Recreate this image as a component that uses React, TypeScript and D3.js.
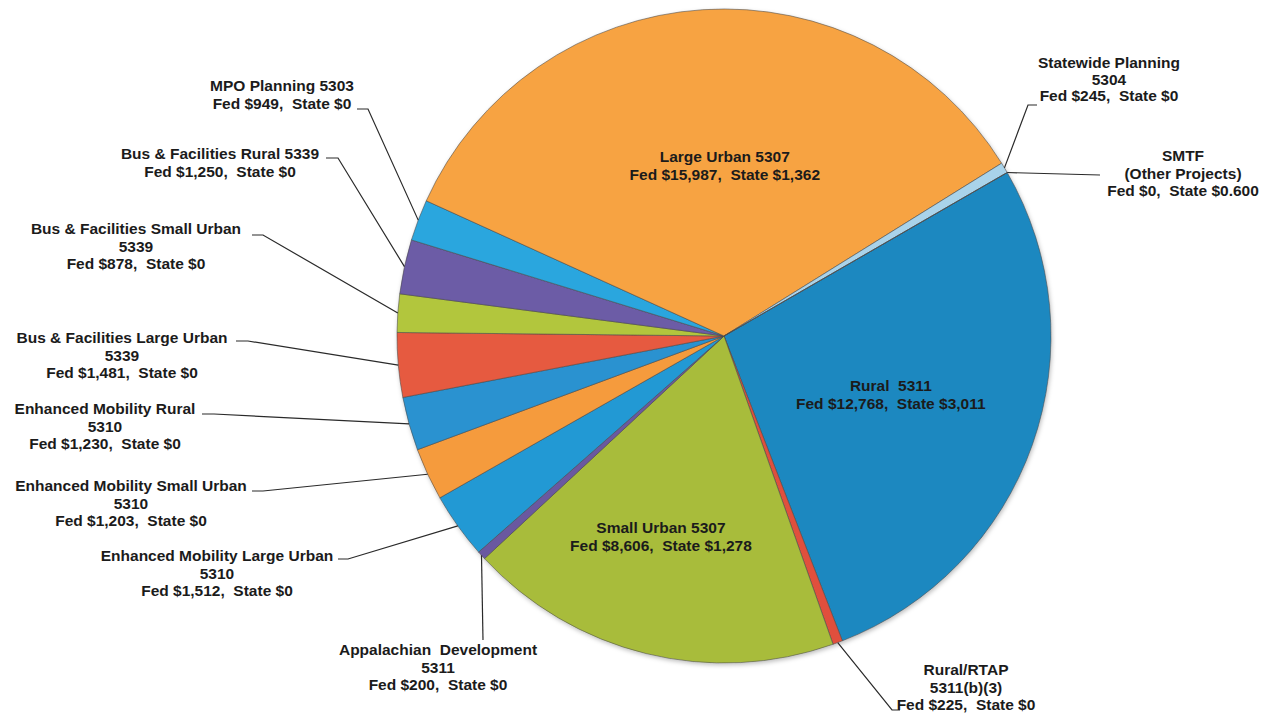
import React from "react";
import * as d3 from "d3";

// ---- data ----
const categories: string[][] = [
  ["Rural  5311"],
  ["Rural/RTAP", "5311(b)(3)"],
  ["Small Urban 5307"],
  ["Appalachian  Development", "5311"],
  ["Enhanced Mobility Large Urban", "5310"],
  ["Enhanced Mobility Small Urban", "5310"],
  ["Enhanced Mobility Rural", "5310"],
  ["Bus & Facilities Large Urban", "5339"],
  ["Bus & Facilities Small Urban", "5339"],
  ["Bus & Facilities Rural 5339"],
  ["MPO Planning 5303"],
  ["Large Urban 5307"],
  ["Statewide Planning", "5304"],
  ["SMTF", "(Other Projects)"],
];
const fedValues: number[] = [12768, 225, 8606, 200, 1512, 1203, 1230, 1481, 878, 1250, 949, 15987, 245, 0];
const stateValues: number[] = [3011, 0, 1278, 0, 0, 0, 0, 0, 0, 0, 0, 1362, 0, 0.6];

// ---- styles ----
const colors = [
  "#1e88c0", "#e0503c", "#a8bc3a", "#6a58a0", "#2499d4", "#f59b3d", "#2a92d0",
  "#e65a40", "#b2c63c", "#6c5ba6", "#2aa6de", "#f7a342", "#a9d3ea", "#e0503c",
];

const W = 1276, H = 715;
const CX = 724, CY = 336, R = 327;
const START = (60 * Math.PI) / 180;
const LH = 17.5;

// inside labels: radius fraction and angular nudge (degrees) from slice mid-angle
const insideLayout: Record<number, { f: number; da: number }> = {
  0: { f: 0.54, da: -0.25 },
  11: { f: 0.523, da: 4 },
  2: { f: 0.641, da: 3.7 },
};
// outside labels: text centre x, first line centre y, leader points (before the pie edge)
const outsideLayout: Record<number, { x: number; y: number; pts: [number, number][]; lh?: number }> = {
  1: { x: 966, y: 669, pts: [[900, 710], [892, 710]] },
  3: { x: 438, y: 649, pts: [[483, 640]] },
  4: { x: 217, y: 555, pts: [[338, 559], [348, 559]] },
  5: { x: 131, y: 485, pts: [[252, 491], [263, 491]] },
  6: { x: 105, y: 408, pts: [[202, 414], [214, 414]] },
  7: { x: 122, y: 337, pts: [[236, 341], [248, 341]] },
  8: { x: 136, y: 228, pts: [[252, 235], [263, 235]] },
  9: { x: 220, y: 153, pts: [[326, 158], [338, 158]] },
  10: { x: 282, y: 85, pts: [[357, 109], [368, 109]] },
  12: { x: 1109, y: 62, pts: [[1037, 105], [1028, 105]], lh: 16.5 },
  13: { x: 1183, y: 155, pts: [[1100, 175]] },
};

const fmtInt = d3.format(",");
const fmtVal = (v: number) => (Number.isInteger(v) ? fmtInt(v) : d3.format(".3f")(v));
const valueLine = (i: number) => `Fed $${fmtVal(fedValues[i])},  State $${fmtVal(stateValues[i])}`;

export default function App() {
  const idx = d3.range(fedValues.length);
  const pie = d3
    .pie<number>()
    .sort(null)
    .value((i) => fedValues[i])
    .startAngle(START)
    .endAngle(START + 2 * Math.PI);
  const arcs = pie(idx);
  const arc = d3.arc<d3.PieArcDatum<number>>().innerRadius(0).outerRadius(R);
  const line = d3.line();

  const textStyle: React.CSSProperties = {
    fontFamily: "'Liberation Sans', Arial, sans-serif",
    fontWeight: 700,
    fontSize: "15.5px",
    fill: "#1b1b1b",
    whiteSpace: "pre",
  };

  const edgePoint = (a: d3.PieArcDatum<number>): [number, number] => {
    const m = (a.startAngle + a.endAngle) / 2;
    return [Math.sin(m) * R, -Math.cos(m) * R];
  };

  return (
    <svg
      width={W}
      height={H}
      style={{ position: "absolute", left: 0, top: 0, background: "#fff" }}
    >
      <defs>
        <filter id="shadow" x="-10%" y="-10%" width="120%" height="120%">
          <feDropShadow dx="1" dy="2" stdDeviation="2" floodColor="#000" floodOpacity="0.25" />
        </filter>
      </defs>
      <g transform={`translate(${CX},${CY})`}>
        <g filter="url(#shadow)">
          {arcs.map((a) => (
            <path
              key={a.data}
              d={arc(a) || ""}
              fill={colors[a.data]}
              stroke="#4a4a4a"
              strokeWidth={0.8}
              strokeOpacity={0.7}
            />
          ))}
        </g>
        {arcs.map((a) => {
          const L = insideLayout[a.data];
          if (!L) return null;
          const m = (a.startAngle + a.endAngle) / 2 + (L.da * Math.PI) / 180;
          const x = Math.sin(m) * R * L.f;
          const y = -Math.cos(m) * R * L.f;
          const lines = [...categories[a.data], valueLine(a.data)];
          const y0 = y - ((lines.length - 1) * LH) / 2;
          return (
            <text key={"in" + a.data} textAnchor="middle" dominantBaseline="central" style={textStyle}>
              {lines.map((t, k) => (
                <tspan key={k} x={x} y={y0 + k * LH}>
                  {t}
                </tspan>
              ))}
            </text>
          );
        })}
      </g>
      {arcs.map((a) => {
        const L = outsideLayout[a.data];
        if (!L) return null;
        const [ex, ey] = edgePoint(a);
        const pts: [number, number][] = [...L.pts, [CX + ex, CY + ey]];
        const lines = [...categories[a.data], valueLine(a.data)];
        const lh = L.lh ?? LH;
        return (
          <g key={"out" + a.data}>
            <path d={line(pts) || ""} fill="none" stroke="#2a2a2a" strokeWidth={1.2} />
            <text textAnchor="middle" dominantBaseline="central" style={textStyle}>
              {lines.map((t, k) => (
                <tspan key={k} x={L.x} y={L.y + k * lh}>
                  {t}
                </tspan>
              ))}
            </text>
          </g>
        );
      })}
    </svg>
  );
}
